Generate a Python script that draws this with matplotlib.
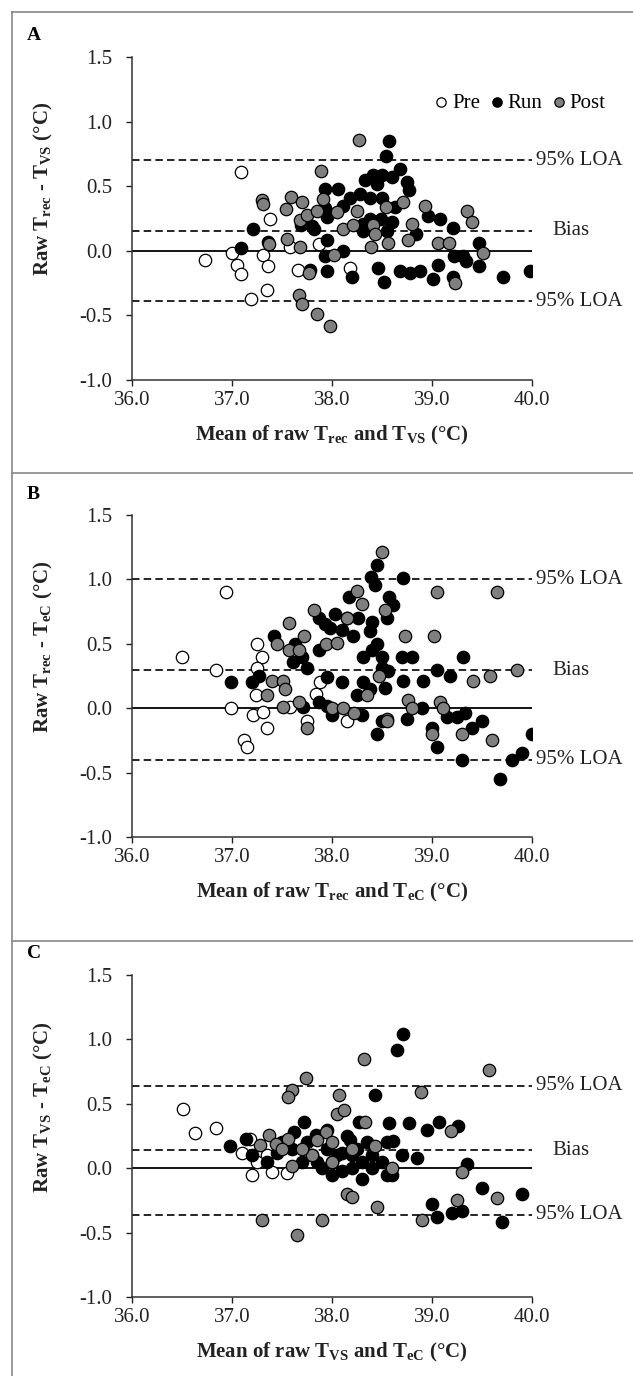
import matplotlib
matplotlib.use('Agg')
import matplotlib.pyplot as plt
from matplotlib.lines import Line2D

plt.rcParams['font.family'] = ['Liberation Serif', 'DejaVu Serif']
plt.rcParams['mathtext.fontset'] = 'custom'
plt.rcParams['mathtext.rm'] = 'Liberation Serif'
plt.rcParams['mathtext.bf'] = 'Liberation Serif:bold'
plt.rcParams['mathtext.it'] = 'Liberation Serif:italic'
plt.rcParams['mathtext.default'] = 'bf'

# ---------------- Panel A : Trec - TVS ----------------
a_pre_x = [37.09, 36.73, 37.00, 37.05, 37.09, 37.19, 37.38, 37.31, 37.36, 37.35, 37.58, 37.87, 37.66, 38.18]
a_pre_y = [0.61, -0.07, -0.02, -0.11, -0.18, -0.37, 0.25, -0.03, -0.12, -0.30, 0.03, 0.05, -0.15, -0.13]
a_run_x = [37.09, 37.21, 37.36, 37.69, 37.80, 37.82, 37.78, 37.93, 37.93, 37.95, 37.95, 37.93, 37.95,
           38.57, 38.54, 38.33, 38.41, 38.50, 38.60, 38.68, 38.75, 38.77, 38.45, 38.06, 38.18, 38.28,
           38.38, 38.50, 38.63, 38.11, 38.31, 38.38, 38.49, 38.60, 38.31, 38.55, 38.84, 38.96, 39.08,
           39.21, 39.22, 39.31, 39.34, 39.47, 39.47, 39.71, 39.98, 39.21, 39.06, 39.01, 38.88, 38.78,
           38.68, 38.52, 38.46, 38.20, 38.11]
a_run_y = [0.025, 0.17, 0.07, 0.20, 0.19, 0.17, -0.15, 0.48, 0.33, 0.26, 0.08, -0.04, -0.16,
           0.85, 0.73, 0.55, 0.59, 0.59, 0.57, 0.63, 0.53, 0.47, 0.52, 0.48, 0.41, 0.44,
           0.41, 0.41, 0.34, 0.35, 0.21, 0.25, 0.25, 0.22, 0.15, 0.15, 0.13, 0.27, 0.25,
           0.18, -0.04, -0.04, -0.08, 0.06, -0.12, -0.20, -0.16, -0.20, -0.11, -0.22, -0.16, -0.17,
           -0.16, -0.24, -0.13, -0.20, 0.00]
a_post_x = [37.30, 37.31, 37.37, 37.55, 37.54, 37.59, 37.70, 37.68, 37.75, 37.85, 37.68, 37.77, 37.89,
            37.67, 37.70, 37.85, 37.98, 37.91, 38.27, 38.71, 38.54, 38.05, 38.25, 38.11, 38.21, 38.41,
            38.43, 38.56, 38.39, 38.80, 38.76, 38.93, 39.35, 39.40, 39.06, 39.17, 39.51, 39.23, 38.02]
a_post_y = [0.39, 0.36, 0.05, 0.09, 0.32, 0.42, 0.38, 0.24, 0.28, 0.31, 0.03, -0.17, 0.62,
            -0.34, -0.41, -0.49, -0.58, 0.40, 0.86, 0.38, 0.34, 0.30, 0.31, 0.17, 0.20, 0.20,
            0.13, 0.06, 0.03, 0.21, 0.08, 0.35, 0.31, 0.22, 0.06, 0.06, -0.02, -0.25, -0.03]
a_lines = [0.70, 0.155, -0.39]

# ---------------- Panel B : Trec - TeC ----------------
b_pre_x = [36.94, 36.50, 36.84, 36.99, 37.25, 37.30, 37.25, 37.24, 37.21, 37.31, 37.58, 37.84, 37.88,
           37.12, 37.15, 37.35, 37.75, 38.15]
b_pre_y = [0.90, 0.40, 0.30, 0.00, 0.50, 0.40, 0.31, 0.10, -0.05, -0.03, 0.01, 0.11, 0.20,
           -0.25, -0.30, -0.15, -0.10, -0.10]
b_run_x = [36.99, 37.20, 37.27, 37.42, 37.63, 37.61, 37.70, 37.75, 37.87, 37.87, 37.93, 37.95, 37.71,
           37.87, 37.95, 38.45, 38.39, 38.43, 38.71, 38.17, 38.57, 38.61, 38.55, 38.40, 38.38, 38.26,
           38.15, 38.03, 37.98, 38.10, 38.21, 38.45, 38.40, 38.31, 38.50, 38.70, 38.80, 39.31, 38.50,
           38.56, 39.05, 39.18, 38.91, 38.71, 38.53, 38.31, 38.38, 38.25, 38.10, 38.75, 39.15, 39.25,
           39.33, 39.30, 39.80, 39.68, 38.45, 38.50, 39.00, 39.05, 39.40, 39.50, 39.90, 40.00, 38.90,
           38.00, 38.30]
b_run_y = [0.20, 0.20, 0.25, 0.56, 0.50, 0.36, 0.40, 0.31, 0.45, 0.70, 0.65, 0.24, 0.01,
           0.05, 0.02, 1.11, 1.02, 0.96, 1.01, 0.86, 0.86, 0.80, 0.70, 0.67, 0.60, 0.70,
           0.70, 0.73, 0.62, 0.61, 0.56, 0.50, 0.45, 0.40, 0.40, 0.40, 0.40, 0.40, 0.31,
           0.29, 0.30, 0.25, 0.21, 0.21, 0.16, 0.20, 0.15, 0.10, 0.20, -0.08, -0.07, -0.07,
           -0.04, -0.40, -0.40, -0.55, -0.20, -0.10, -0.15, -0.30, -0.15, -0.10, -0.35, -0.20, 0.00,
           -0.05, -0.05]
b_post_x = [37.40, 37.51, 37.53, 37.35, 37.51, 37.57, 37.45, 37.57, 37.67, 37.72, 37.82, 37.94, 37.67,
            38.50, 39.05, 39.65, 38.25, 38.30, 38.53, 38.15, 38.05, 38.73, 39.02, 39.85, 39.58, 39.41,
            38.47, 38.35, 38.00, 38.11, 38.22, 38.76, 38.80, 39.08, 39.11, 38.55, 37.75, 38.55, 39.00,
            39.30, 39.60]
b_post_y = [0.21, 0.21, 0.15, 0.10, 0.01, 0.66, 0.50, 0.45, 0.45, 0.56, 0.76, 0.50, 0.05,
            1.21, 0.90, 0.90, 0.91, 0.81, 0.76, 0.70, 0.51, 0.56, 0.56, 0.30, 0.25, 0.21,
            0.25, 0.10, 0.00, 0.00, -0.04, 0.06, 0.00, 0.05, 0.00, -0.08, -0.15, -0.10, -0.20,
            -0.20, -0.25]
b_lines = [1.00, 0.295, -0.40]

# ---------------- Panel C : TVS - TeC ----------------
c_pre_x = [36.51, 36.63, 36.84, 37.18, 37.10, 37.20, 37.35, 37.40, 37.55, 37.25]
c_pre_y = [0.46, 0.27, 0.31, 0.23, 0.12, -0.05, 0.10, -0.03, -0.04, 0.05]
c_run_x = [38.71, 38.65, 38.43, 37.72, 38.57, 38.77, 38.95, 39.07, 39.26, 38.27, 38.61, 37.84, 37.62,
           37.14, 36.98, 38.18, 37.20, 37.35, 37.45, 37.70, 37.80, 37.90, 38.00, 38.10, 38.20, 38.30,
           38.40, 38.55, 38.70, 38.85, 39.00, 39.05, 39.20, 39.30, 39.35, 39.50, 39.70, 39.90, 38.60,
           38.30, 38.10, 38.50, 37.50, 37.60, 37.75, 37.85, 37.95, 38.05, 38.15, 38.25, 38.35, 38.40,
           37.95, 38.00, 38.20, 38.55]
c_run_y = [1.04, 0.92, 0.57, 0.36, 0.35, 0.35, 0.30, 0.36, 0.33, 0.36, 0.21, 0.26, 0.28,
           0.23, 0.17, 0.22, 0.10, 0.05, 0.12, 0.05, 0.10, 0.00, 0.05, -0.02, 0.10, 0.05,
           0.00, -0.05, 0.10, 0.08, -0.28, -0.38, -0.35, -0.33, 0.03, -0.15, -0.42, -0.20, -0.05,
           -0.08, 0.12, 0.05, 0.20, 0.15, 0.20, 0.05, 0.15, 0.10, 0.25, 0.15, 0.20, 0.10,
           0.30, -0.05, 0.00, 0.20]
c_post_x = [38.32, 39.57, 37.74, 37.60, 37.56, 38.89, 38.07, 38.05, 38.12, 39.19, 38.33, 37.94, 37.37,
            37.56, 37.28, 37.44, 38.43, 37.30, 37.65, 37.90, 37.60, 38.15, 38.20, 38.45, 38.90, 39.25,
            39.30, 39.65, 38.00, 37.80, 38.60, 37.70, 37.85, 38.00, 38.20, 37.50]
c_post_y = [0.85, 0.76, 0.70, 0.61, 0.55, 0.59, 0.57, 0.42, 0.45, 0.29, 0.36, 0.28, 0.26,
            0.23, 0.18, 0.19, 0.17, -0.40, -0.52, -0.40, 0.02, -0.20, -0.22, -0.30, -0.40, -0.25,
            -0.03, -0.23, 0.05, 0.10, 0.00, 0.15, 0.22, 0.20, 0.15, 0.15]
c_lines = [0.64, 0.14, -0.36]

x_ticks = [36.0, 37.0, 38.0, 39.0, 40.0]
y_ticks = [-1.0, -0.5, 0.0, 0.5, 1.0, 1.5]
line_labels = ['95% LOA', 'Bias', '95% LOA']

panels = [
    ('A', a_pre_x, a_pre_y, a_run_x, a_run_y, a_post_x, a_post_y, a_lines,
     r'Raw $T_{rec}$ - $T_{VS}$ (°C)', r'Mean of raw $T_{rec}$ and $T_{VS}$ (°C)'),
    ('B', b_pre_x, b_pre_y, b_run_x, b_run_y, b_post_x, b_post_y, b_lines,
     r'Raw $T_{rec}$ - $T_{eC}$ (°C)', r'Mean of raw $T_{rec}$ and $T_{eC}$ (°C)'),
    ('C', c_pre_x, c_pre_y, c_run_x, c_run_y, c_post_x, c_post_y, c_lines,
     r'Raw $T_{VS}$ - $T_{eC}$ (°C)', r'Mean of raw $T_{VS}$ and $T_{eC}$ (°C)'),
]

W, H = 633, 1376
fig = plt.figure(figsize=(W / 100, H / 100), dpi=100)

# pixel layout of each panel: (top of axes, bottom of axes, panel top, letter y)
layout = [(57, 380, 12, 35), (515, 837, 473, 495), (975, 1297, 941, 953)]
ax_left, ax_right = 132, 532

for (letter, prx, pry, rux, ruy, pox, poy, lines, ylab, xlab), (top, bot, ptop, ly) in zip(panels, layout):
    ax = fig.add_axes([ax_left / W, 1 - bot / H, (ax_right - ax_left) / W, (bot - top) / H])
    ax.set_xlim(36, 40)
    ax.set_ylim(-1, 1.5)
    ax.axhline(0, color='black', lw=1.3, zorder=1)
    for val, lab in zip(lines, line_labels):
        ax.axhline(val, color='black', lw=1.2, ls=(0, (4.5, 2.5)), zorder=1)
        xt = 40.2 if lab == 'Bias' else 40.04
        ax.text(xt, val, lab, va='center', ha='left', fontsize=15, color='#222222', clip_on=False)
    ms = 80
    ax.scatter(prx, pry, s=ms, facecolor='white', edgecolor='black', lw=0.9, zorder=3, label='Pre')
    ax.scatter(rux, ruy, s=ms, facecolor='black', edgecolor='black', lw=0.9, zorder=3, label='Run')
    ax.scatter(pox, poy, s=ms, facecolor='#7f7f7f', edgecolor='black', lw=0.9, zorder=3, label='Post')

    ax.set_xticks(x_ticks)
    ax.set_xticklabels(['%.1f' % v for v in x_ticks])
    ax.set_yticks(y_ticks)
    ax.set_yticklabels(['%.1f' % v for v in y_ticks])
    ax.tick_params(direction='out', length=4, width=1.0, labelsize=15, colors='#222222')
    ax.tick_params(axis='y', pad=10)
    ax.tick_params(axis='x', pad=4)
    for s in ['top', 'right']:
        ax.spines[s].set_visible(False)
    for s in ['left', 'bottom']:
        ax.spines[s].set_linewidth(1.1)
        ax.spines[s].set_color('#333333')

    ax.text(0.5, -55 / (bot - top), xlab, transform=ax.transAxes, ha='center', va='center',
            fontsize=15, fontweight='bold', color='#222222')
    ax.text(-89 / 400, 0.59, ylab, transform=ax.transAxes, ha='center', va='center',
            rotation=90, fontsize=15, fontweight='bold', color='#222222')
    fig.text(27 / W, 1 - ly / H, letter, fontsize=14, fontweight='bold', ha='left', va='center')

    # panel frame
    fig.add_artist(Line2D([12 / W, 1], [1 - ptop / H, 1 - ptop / H], color='#888888', lw=1.2))

    if letter == 'A':
        ax.legend(loc='center', bbox_to_anchor=(0.965, 0.858), ncol=3, frameon=False,
                  fontsize=15, handletextpad=0.0, columnspacing=0.3, borderaxespad=0,
                  markerscale=0.75, handlelength=1.0)

fig.add_artist(Line2D([12 / W, 12 / W], [0, 1 - 12 / H], color='#888888', lw=1.2))

fig.savefig('out.png', dpi=100)
